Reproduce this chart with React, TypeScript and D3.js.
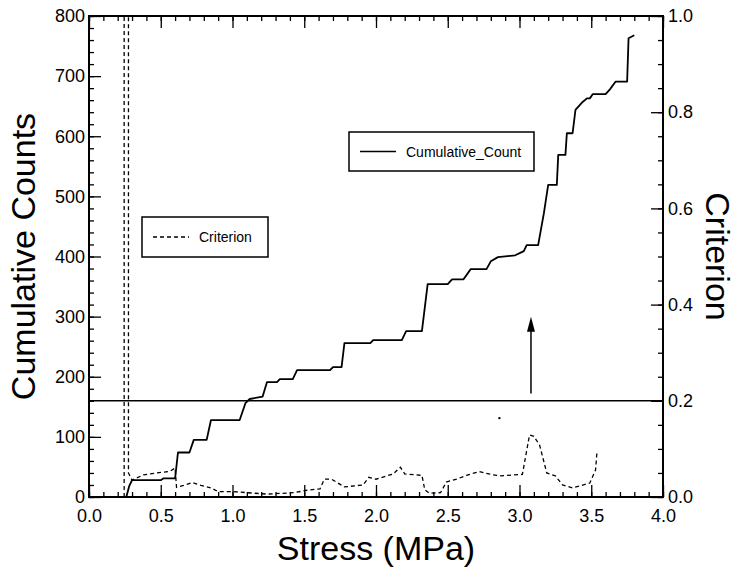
import React, { useRef, useEffect } from 'react';
import * as d3 from 'd3';

// cumulative count curve (stepped)
const cumStress = [0.26, 0.28, 0.30, 0.50, 0.52, 0.60, 0.62, 0.70, 0.73, 0.82, 0.85, 1.05, 1.09, 1.12, 1.21, 1.24, 1.31, 1.33, 1.42, 1.45, 1.68, 1.70, 1.76, 1.78, 1.96, 1.98, 2.18, 2.21, 2.32, 2.36, 2.50, 2.53, 2.61, 2.66, 2.77, 2.80, 2.85, 2.97, 3.03, 3.05, 3.13, 3.17, 3.20, 3.26, 3.27, 3.32, 3.33, 3.37, 3.39, 3.44, 3.47, 3.49, 3.51, 3.60, 3.63, 3.67, 3.75, 3.76, 3.80];
const cumCounts = [0, 18, 28, 28, 31, 31, 74, 74, 95, 95, 128, 128, 156, 163, 167, 191, 191, 196, 196, 211, 211, 216, 216, 256, 256, 261, 261, 276, 276, 354, 354, 362, 362, 379, 379, 392, 399, 402, 409, 419, 419, 472, 519, 519, 569, 569, 605, 605, 644, 657, 663, 663, 670, 670, 678, 691, 691, 763, 768];

// criterion curve (dashed)
const critStress = [0.245, 0.245, 0.275, 0.275, 0.30, 0.38, 0.47, 0.56, 0.60, 0.61, 0.66, 0.72, 0.78, 0.85, 0.90, 1.01, 1.10, 1.24, 1.43, 1.52, 1.61, 1.64, 1.69, 1.78, 1.91, 1.95, 2.00, 2.12, 2.17, 2.20, 2.32, 2.34, 2.37, 2.45, 2.49, 2.57, 2.63, 2.72, 2.80, 2.86, 3.02, 3.07, 3.10, 3.14, 3.19, 3.25, 3.30, 3.37, 3.49, 3.53, 3.54];
const critValues = [0, 1.2, 1.2, 0.05, 0.035, 0.046, 0.05, 0.053, 0.06, 0.02, 0.024, 0.03, 0.024, 0.019, 0.011, 0.011, 0.009, 0.006, 0.009, 0.014, 0.017, 0.037, 0.037, 0.021, 0.025, 0.041, 0.037, 0.048, 0.062, 0.048, 0.045, 0.015, 0.008, 0.009, 0.031, 0.038, 0.045, 0.053, 0.047, 0.044, 0.047, 0.129, 0.126, 0.108, 0.05, 0.044, 0.025, 0.019, 0.029, 0.056, 0.094];

// stray point visible in the original
const speckStress = [2.86];
const speckCrit = [0.164];

const thresholdCrit = 0.2;
const arrowStress = 3.08;
const arrowCrit = [0.215, 0.375];

const stressTicks = [0, 0.5, 1, 1.5, 2, 2.5, 3, 3.5, 4];
const countTicks = [0, 100, 200, 300, 400, 500, 600, 700, 800];
const critTicks = [0, 0.2, 0.4, 0.6, 0.8, 1.0];

const App = () => {
  const ref = useRef<HTMLDivElement>(null);

  useEffect(() => {
    const width = 737;
    const height = 575;
    const left = 89, right = 663, top = 16, bottom = 497;
    const font = '"Liberation Sans", Arial, Helvetica, sans-serif';

    d3.select(ref.current).selectAll('svg').remove();

    // placed at the page origin (skip the default body margin)
    const svg = d3.select(ref.current)
      .append('svg')
      .attr('width', width)
      .attr('height', height)
      .style('position', 'absolute')
      .style('left', '0px')
      .style('top', '0px')
      .style('font-family', font);

    svg.append('rect').attr('width', width).attr('height', height).attr('fill', '#fff');

    const x = d3.scaleLinear().domain([0, 4]).range([left, right]);
    const y = d3.scaleLinear().domain([0, 800]).range([bottom, top]);
    const y2 = d3.scaleLinear().domain([0, 1]).range([bottom, top]);

    svg.append('clipPath').attr('id', 'plot-clip')
      .append('rect')
      .attr('x', left).attr('y', top)
      .attr('width', right - left).attr('height', bottom - top);

    // ticks (inward), major + minor on all four sides
    const minorStress = d3.range(0, 4.001, 0.1).map(v => +v.toFixed(1));
    const minorCount = d3.range(0, 801, 20);
    const minorCrit = d3.range(0, 1.001, 0.05).map(v => +v.toFixed(2));

    const addAxis = (axis: any, tx: number, ty: number) => {
      const g = svg.append('g').attr('transform', `translate(${tx},${ty})`).call(axis);
      g.select('.domain').remove();
      g.selectAll('line').attr('stroke', '#000').attr('stroke-width', 1.3);
      g.selectAll('text').attr('fill', '#000').style('font-size', '18px').style('font-family', font);
      return g;
    };

    addAxis(d3.axisBottom(x).tickValues(minorStress).tickSize(-5).tickFormat(() => ''), 0, bottom);
    addAxis(d3.axisTop(x).tickValues(minorStress).tickSize(-5).tickFormat(() => ''), 0, top);
    addAxis(d3.axisLeft(y).tickValues(minorCount).tickSize(-5).tickFormat(() => ''), left, 0);
    addAxis(d3.axisRight(y2).tickValues(minorCrit).tickSize(-5).tickFormat(() => ''), right, 0);

    const bx = addAxis(d3.axisBottom(x).tickValues(stressTicks).tickSizeInner(-12).tickSizeOuter(0).tickPadding(12).tickFormat(d3.format('.1f')), 0, bottom);
    bx.selectAll('text').attr('dy', '0.71em');
    addAxis(d3.axisTop(x).tickValues(stressTicks).tickSizeInner(-12).tickSizeOuter(0).tickFormat(() => ''), 0, top);
    addAxis(d3.axisLeft(y).tickValues(countTicks).tickSizeInner(-12).tickSizeOuter(0).tickPadding(4).tickFormat(d3.format('d')), left, 0);
    addAxis(d3.axisRight(y2).tickValues(critTicks).tickSizeInner(-12).tickSizeOuter(0).tickPadding(5).tickFormat(d3.format('.1f')), right, 0);

    // frame
    svg.append('rect')
      .attr('x', left).attr('y', top)
      .attr('width', right - left).attr('height', bottom - top)
      .attr('fill', 'none').attr('stroke', '#000').attr('stroke-width', 2);

    const plot = svg.append('g').attr('clip-path', 'url(#plot-clip)');

    // threshold line
    plot.append('line')
      .attr('x1', left).attr('x2', right)
      .attr('y1', y2(thresholdCrit)).attr('y2', y2(thresholdCrit))
      .attr('stroke', '#000').attr('stroke-width', 1.4);

    // criterion dashed curve
    const critLine = d3.line<number>()
      .x((d, i) => x(critStress[i]))
      .y(d => y2(d));
    plot.append('path')
      .attr('d', critLine(critValues))
      .attr('fill', 'none')
      .attr('stroke', '#000')
      .attr('stroke-width', 1.3)
      .attr('stroke-dasharray', '4,3');

    // cumulative count
    const cumLine = d3.line<number>()
      .x((d, i) => x(cumStress[i]))
      .y(d => y(d));
    plot.append('path')
      .attr('d', cumLine(cumCounts))
      .attr('fill', 'none')
      .attr('stroke', '#000')
      .attr('stroke-width', 1.8)
      .attr('stroke-linejoin', 'round');

    plot.selectAll('circle.speck')
      .data(speckCrit)
      .enter().append('circle')
      .attr('class', 'speck')
      .attr('cx', (d, i) => x(speckStress[i]))
      .attr('cy', d => y2(d))
      .attr('r', 1.2)
      .attr('fill', '#000');

    // arrow
    const ax = x(arrowStress);
    const [a0, a1] = arrowCrit.map(v => y2(v));
    plot.append('line')
      .attr('x1', ax).attr('x2', ax)
      .attr('y1', a0).attr('y2', a1 + 10)
      .attr('stroke', '#000').attr('stroke-width', 1.5);
    plot.append('path')
      .attr('d', `M${ax},${a1} L${ax - 4},${a1 + 15} L${ax + 4},${a1 + 15} Z`)
      .attr('fill', '#000');

    // legends
    const legend = (lx: number, ly: number, w: number, h: number, label: string, dashed: boolean) => {
      const g = svg.append('g').attr('transform', `translate(${lx},${ly})`);
      g.append('rect').attr('width', w).attr('height', h)
        .attr('fill', '#fff').attr('stroke', '#000').attr('stroke-width', 1.5);
      g.append('line')
        .attr('x1', 11).attr('x2', 47)
        .attr('y1', h / 2).attr('y2', h / 2)
        .attr('stroke', '#000').attr('stroke-width', 1.3)
        .attr('stroke-dasharray', dashed ? '4,3' : null);
      g.append('text')
        .attr('x', 57).attr('y', h / 2 + 5)
        .style('font-size', '14px')
        .text(label);
    };
    legend(142, 217, 126, 40, 'Criterion', true);
    legend(349, 132, 185, 39, 'Cumulative_Count', false);

    // axis titles
    svg.append('text')
      .attr('x', (left + right) / 2).attr('y', 560)
      .attr('text-anchor', 'middle')
      .style('font-size', '34px')
      .text('Stress (MPa)');
    svg.append('text')
      .attr('transform', `translate(35,${(top + bottom) / 2}) rotate(-90)`)
      .attr('text-anchor', 'middle')
      .style('font-size', '34px')
      .text('Cumulative Counts');
    svg.append('text')
      .attr('transform', `translate(706,${(top + bottom) / 2}) rotate(90)`)
      .attr('text-anchor', 'middle')
      .style('font-size', '34px')
      .text('Criterion');
  }, []);

  return <div ref={ref} />;
};

export default App;
